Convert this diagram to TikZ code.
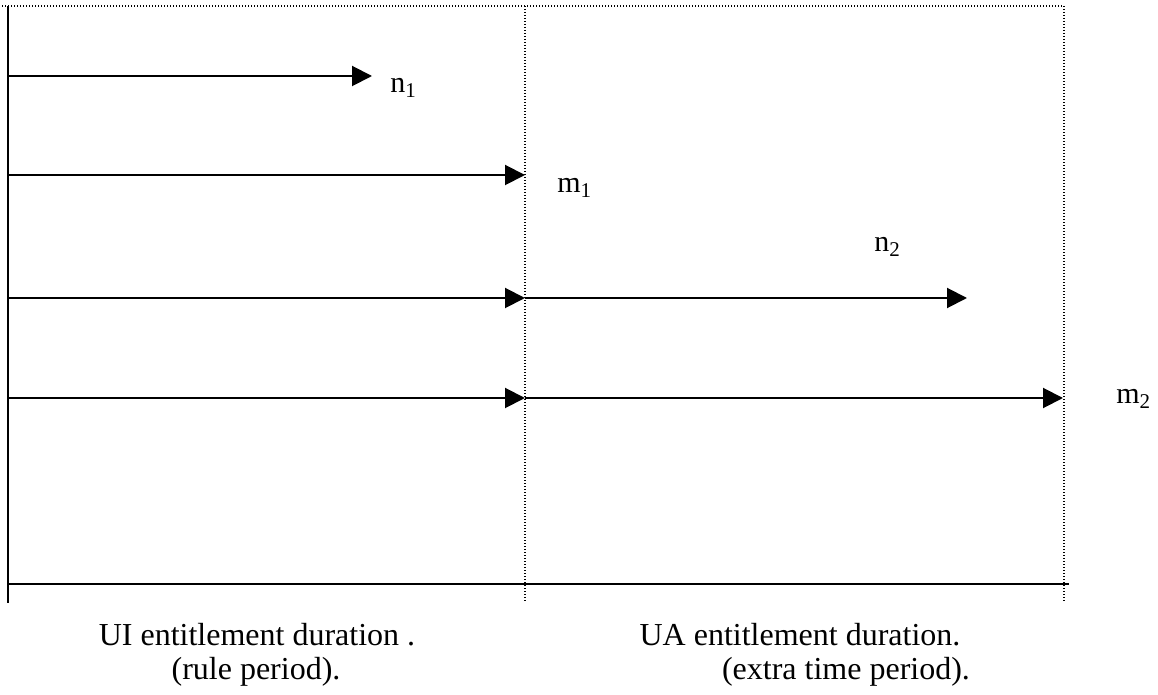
\documentclass[tikz,border=0pt]{standalone}
\usepackage{fontspec}
\setmainfont{Liberation Serif}
\usetikzlibrary{arrows.meta}
\tikzset{
  flow/.style={line width=1pt,-{Triangle[length=10pt,width=10pt]}},
  guide/.style={line width=0.7pt,dash pattern=on 0.5pt off 1pt},
  axis/.style={line width=1pt},
  lbl/.style={anchor=base west,inner sep=0pt,font=\fontsize{15}{17}\selectfont},
  caption/.style={anchor=base,inner sep=0pt,font=\fontsize{16}{18}\selectfont}
}

\begin{document}
\begin{tikzpicture}[x=0.5pt,y=-0.5pt]
	%%%%% FRAME %%%%%
	\useasboundingbox (0,0) rectangle (1158,695);
	\coordinate (tl) at (2,6);
	\coordinate (tl2) at (8,6);
	\coordinate (bl) at (8,603);
	\coordinate (tm) at (525,6);
	\coordinate (bm) at (525,603);
	\coordinate (tr) at (1064,6);
	\coordinate (br) at (1064,603);
	\coordinate (axl) at (8,584);
	\coordinate (axr) at (1069,584);
	
	\draw[guide] (tl) -- (tr) -- (br);
	\draw[guide] (tm) -- (bm);
	\draw[axis] (tl2) -- (bl);
	\draw[axis] (axl) -- (axr);
	
	%%%%% ARROWS %%%%%
	\coordinate (s1) at (8,76);  \coordinate (t1) at (372,76);
	\coordinate (s2) at (8,175); \coordinate (t2) at (525,175);
	\coordinate (s3) at (8,298); \coordinate (t3) at (525,298); \coordinate (u3) at (967,298);
	\coordinate (s4) at (8,398); \coordinate (t4) at (525,398); \coordinate (u4) at (1063,398);
	
	\draw[flow] (s1) -- (t1);
	\draw[flow] (s2) -- (t2);
	\draw[flow] (s3) -- (t3);
	\draw[flow] (t3) -- (u3);
	\draw[flow] (s4) -- (t4);
	\draw[flow] (t4) -- (u4);
	
	\node[lbl] (n1) at (390,93) {n\textsubscript{1}};
	\node[lbl] (m1) at (557,193) {m\textsubscript{1}};
	\node[lbl] (n2) at (874,252) {n\textsubscript{2}};
	\node[lbl] (m2) at (1116,404) {m\textsubscript{2}};
	
	%%%%% CAPTIONS %%%%%
	\node[caption] (ui) at (257,645) {UI entitlement duration .};
	\node[caption] (uirule) at (256,679) {(rule period).};
	\node[caption] (ua) at (800,645) {UA entitlement duration.};
	\node[caption] (uaextra) at (846,679) {(extra time period).};
\end{tikzpicture}
\end{document}
